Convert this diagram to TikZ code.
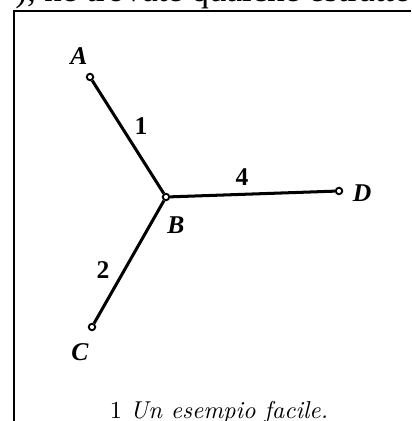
\documentclass[tikz,border=0pt]{standalone}
\usepackage{fontspec}
\newfontfamily\figfont{Liberation Serif}
\begin{document}
\begin{tikzpicture}[x=0.43pt,y=-0.43pt,every node/.style={inner sep=0pt},
  vertex/.style={circle,draw,line width=0.8pt,minimum size=2.8pt,fill=white},
  branch/.style={line width=1.3pt},
  letter/.style={font=\figfont\bfseries\itshape\fontsize{11}{13}\selectfont},
  weight/.style={font=\figfont\bfseries\fontsize{11}{13}\selectfont}]
\useasboundingbox (0,0) rectangle (411,421);
% text of the page above the figure, cut by the edge
\node[anchor=base east,font=\figfont\fontsize{15}{17}\selectfont] (pagetext) at (412,2) {), ne trovate qualche estratto};
\draw[line width=0.9pt] (14,425) -- (14,11) -- (411,11);
% the tree
\node[vertex] (A) at (90,77) {};\node[vertex] (B) at (166,197) {};
\node[vertex] (C) at (92,327) {};\node[vertex] (D) at (339,191) {};
\draw[branch] (B) -- (A);\draw[branch] (B) -- (C);\draw[branch] (B) -- (D);
\node[letter] (lA) at (79,56) {A};\node[letter] (lB) at (176,225) {B};
\node[letter] (lC) at (80,352) {C};\node[letter] (lD) at (362,193) {D};
\node[weight] (w1) at (141,126) {1};\node[weight] (w4) at (242,177) {4};\node[weight] (w2) at (103,270) {2};
% caption
\node[anchor=base,font=\fontsize{10.5}{12}\selectfont] (caption) at (219,418) {1 \textit{Un esempio facile.}};
\end{tikzpicture}
\end{document}
